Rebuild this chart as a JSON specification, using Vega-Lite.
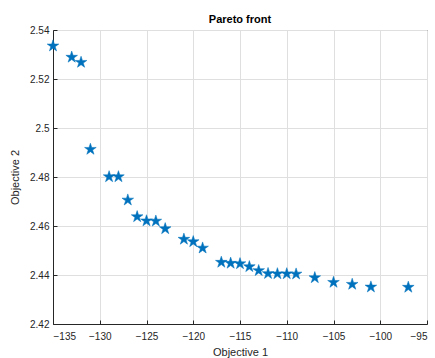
{
  "$schema": "https://vega.github.io/schema/vega-lite/v6.json",
  "width": 374,
  "height": 294,
  "autosize": {"type": "none"},
  "padding": {"left": 53, "top": 30, "right": 8, "bottom": 34},
  "background": "white",
  "title": {"text": "Pareto front", "font": "Liberation Sans", "fontSize": 11, "fontWeight": "bold", "color": "#000000", "offset": 0, "anchor": "middle"},
  "config": {
    "view": {"stroke": "#262626", "strokeWidth": 1},
    "axis": {
      "labelFont": "Liberation Sans", "labelFontSize": 10, "labelColor": "#262626",
      "titleFont": "Liberation Sans", "titleFontSize": 11, "titleFontWeight": "normal", "titleColor": "#262626",
      "gridColor": "#dfdfdf", "gridWidth": 1,
      "domainColor": "#262626", "tickColor": "#262626", "tickSize": -4, "labelPadding": 8
    }
  },
  "data": {"values": [
    {"x": -135, "y": 2.5335},
    {"x": -133, "y": 2.5289},
    {"x": -132, "y": 2.5268},
    {"x": -131, "y": 2.4913},
    {"x": -129, "y": 2.4801},
    {"x": -128, "y": 2.4801},
    {"x": -127, "y": 2.4706},
    {"x": -126, "y": 2.4638},
    {"x": -125, "y": 2.4621},
    {"x": -124, "y": 2.4620},
    {"x": -123, "y": 2.4589},
    {"x": -121, "y": 2.4546},
    {"x": -120, "y": 2.4536},
    {"x": -119, "y": 2.4510},
    {"x": -117, "y": 2.4452},
    {"x": -116, "y": 2.4448},
    {"x": -115, "y": 2.4446},
    {"x": -114, "y": 2.4434},
    {"x": -113, "y": 2.4418},
    {"x": -112, "y": 2.4406},
    {"x": -111, "y": 2.4405},
    {"x": -110, "y": 2.4405},
    {"x": -109, "y": 2.4404},
    {"x": -107, "y": 2.4389},
    {"x": -105, "y": 2.4370},
    {"x": -103, "y": 2.4362},
    {"x": -101, "y": 2.4351},
    {"x": -97, "y": 2.4350}
  ]},
  "mark": {
    "type": "point",
    "shape": "M0,-1L0.2245,-0.309L0.951,-0.309L0.3633,0.118L0.588,0.809L0,0.382L-0.588,0.809L-0.3633,0.118L-0.951,-0.309L-0.2245,-0.309Z",
    "filled": true,
    "color": "#0072BD",
    "stroke": "#0072BD",
    "strokeWidth": 0.5,
    "opacity": 1,
    "size": 150
  },
  "encoding": {
    "x": {"field": "x", "type": "quantitative", "scale": {"domain": [-135, -95], "nice": false, "zero": false},
      "axis": {"values": [-135, -130, -125, -120, -115, -110, -105, -100, -95], "title": "Objective 1", "titlePadding": 5, "labelPadding": 11}},
    "y": {"field": "y", "type": "quantitative", "scale": {"domain": [2.42, 2.54], "nice": false, "zero": false},
      "axis": {"values": [2.42, 2.44, 2.46, 2.48, 2.5, 2.52, 2.54], "format": "~g", "title": "Objective 2", "titlePadding": 9}}
  }
}
